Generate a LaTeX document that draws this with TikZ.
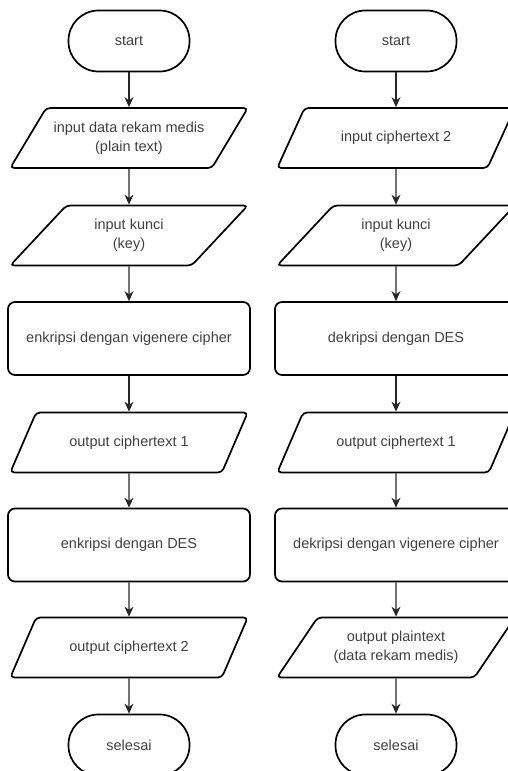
\documentclass[tikz,border=0pt]{standalone}
\usepackage{fontspec}
\setmainfont{Liberation Sans}
\usetikzlibrary{shapes.geometric,arrows.meta}

\tikzset{
  term/.style={draw, line width=1.7pt, rounded corners=30pt, minimum width=121pt, minimum height=61pt},
  io/.style={draw, line width=1.7pt, trapezium, trapezium left angle=49, trapezium right angle=131,
    trapezium stretches=true, rounded corners=4pt, minimum width=238pt, minimum height=60pt, align=center},
  proc/.style={draw, line width=1.7pt, rounded corners=7pt, minimum width=242pt, minimum height=73pt, align=center},
  flow/.style={-{Stealth[length=10pt,width=9pt]}, line width=1.2pt, draw=black!85}
}

\begin{document}
\begin{tikzpicture}[x=1pt, y=-1pt, font=\fontsize{14.5}{19}\selectfont, text=black!75]
\useasboundingbox (0,0) rectangle (508,771);
% enkripsi
\node[term] (l1) at (129,41) {start} ;
\node[io] (l2) at (129,138) {input data rekam medis\\(plain text)} ;
\node[io] (l3) at (129,235.5) {input kunci\\(key)} ;
\node[proc] (l4) at (129,338.5) {enkripsi dengan vigenere cipher} ;
\node[io] (l5) at (129,442.5) {output ciphertext 1} ;
\node[proc] (l6) at (129,545) {enkripsi dengan DES} ;
\node[io] (l7) at (129,647.5) {output ciphertext 2} ;
\node[term] (l8) at (129,745) {selesai} ;
% dekripsi
\node[term] (r1) at (396,41) {start} ;
\node[io] (r2) at (396,138) {input ciphertext 2} ;
\node[io] (r3) at (396,235.5) {input kunci\\(key)} ;
\node[proc] (r4) at (396,338.5) {dekripsi dengan DES} ;
\node[io] (r5) at (396,442.5) {output ciphertext 1} ;
\node[proc] (r6) at (396,545) {dekripsi dengan vigenere cipher} ;
\node[io] (r7) at (396,647.5) {output plaintext\\(data rekam medis)} ;
\node[term] (r8) at (396,745) {selesai} ;
\draw[flow] (l1) to (l2) ;
\draw[flow] (l2) to (l3) ;
\draw[flow] (l3) to (l4) ;
\draw[flow] (l4) to (l5) ;
\draw[flow] (l5) to (l6) ;
\draw[flow] (l6) to (l7) ;
\draw[flow] (l7) to (l8) ;
\draw[flow] (r1) to (r2) ;
\draw[flow] (r2) to (r3) ;
\draw[flow] (r3) to (r4) ;
\draw[flow] (r4) to (r5) ;
\draw[flow] (r5) to (r6) ;
\draw[flow] (r6) to (r7) ;
\draw[flow] (r7) to (r8) ;
\end{tikzpicture}
\end{document}
